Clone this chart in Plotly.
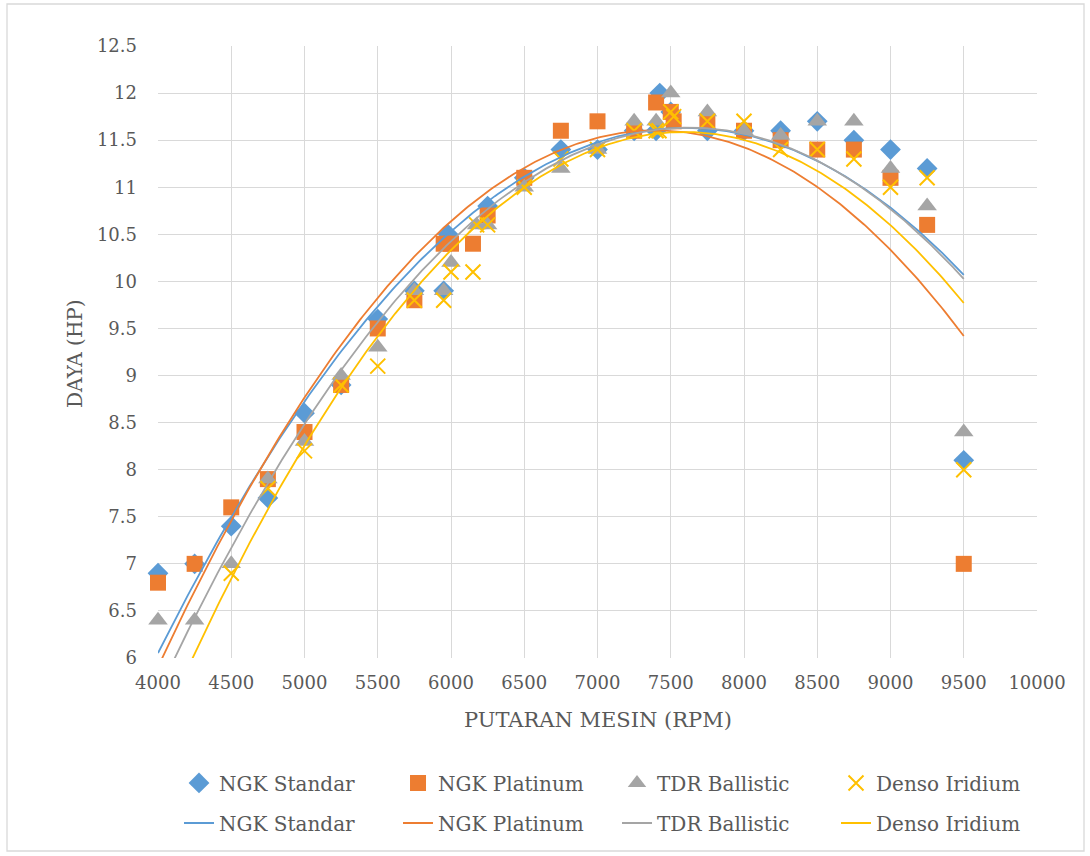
import numpy as np
import plotly.graph_objects as go

# ---- data ----
ngk_std_rpm = [4000, 4250, 4500, 4750, 5000, 5250, 5500, 5750, 5950, 5980, 6250, 6500, 6750, 7000,
               7250, 7400, 7425, 7500, 7750, 8000, 8250, 8500, 8750, 9000, 9250, 9500]
ngk_std_hp = [6.9, 7.0, 7.4, 7.7, 8.6, 8.9, 9.6, 9.9, 9.9, 10.5, 10.8, 11.1, 11.4, 11.4,
              11.6, 11.6, 12.0, 11.8, 11.6, 11.6, 11.6, 11.7, 11.5, 11.4, 11.2, 8.1]

ngk_plat_rpm = [4000, 4250, 4500, 4750, 5000, 5250, 5500, 5750, 5950, 6000, 6150, 6250, 6500, 6750,
                7000, 7250, 7400, 7500, 7520, 7750, 8000, 8250, 8500, 8750, 9000, 9250, 9500]
ngk_plat_hp = [6.8, 7.0, 7.6, 7.9, 8.4, 8.9, 9.5, 9.8, 10.4, 10.4, 10.4, 10.7, 11.1, 11.6,
               11.7, 11.6, 11.9, 11.8, 11.7, 11.7, 11.6, 11.5, 11.4, 11.4, 11.1, 10.6, 7.0]

tdr_rpm = [4000, 4250, 4500, 4750, 5000, 5250, 5500, 5750, 5950, 6000, 6175, 6250, 6500, 6750,
           7000, 7250, 7400, 7500, 7750, 8000, 8250, 8500, 8750, 9000, 9250, 9500]
tdr_hp = [6.4, 6.4, 7.0, 7.9, 8.3, 9.0, 9.3, 9.9, 9.9, 10.2, 10.6, 10.6, 11.0, 11.2,
          11.4, 11.7, 11.7, 12.0, 11.8, 11.6, 11.55, 11.7, 11.7, 11.2, 10.8, 8.4]

# the first two Denso values lie below the axis minimum and are not visible
denso_rpm = [4000, 4250, 4500, 4750, 5000, 5250, 5500, 5750, 5950, 6000, 6150, 6175, 6250, 6500,
             6750, 7000, 7250, 7400, 7420, 7500, 7520, 7750, 8000, 8250, 8500, 8750, 9000, 9250, 9500]
denso_hp = [5.7, 5.9, 6.9, 7.8, 8.2, 8.9, 9.1, 9.8, 9.8, 10.1, 10.1, 10.6, 10.6, 11.0,
            11.3, 11.4, 11.6, 11.6, 11.6, 11.8, 11.75, 11.7, 11.7, 11.4, 11.4, 11.3, 11.0, 11.1, 8.0]

series_names = ["NGK Standar", "NGK Platinum", "TDR Ballistic", "Denso Iridium"]
colors = ["#5B9BD5", "#ED7D31", "#A5A5A5", "#FFC000"]
symbols = ["diamond", "square", "triangle-up", "x-thin"]
x_ticks = [4000, 4500, 5000, 5500, 6000, 6500, 7000, 7500, 8000, 8500, 9000, 9500, 10000]
x_tick_text = [str(v) for v in x_ticks]
y_ticks = [6, 6.5, 7, 7.5, 8, 8.5, 9, 9.5, 10, 10.5, 11, 11.5, 12, 12.5]
y_tick_text = ["6", "6.5", "7", "7.5", "8", "8.5", "9", "9.5", "10", "10.5", "11", "11.5", "12", "12.5"]

all_x = [ngk_std_rpm, ngk_plat_rpm, tdr_rpm, denso_rpm]
all_y = [ngk_std_hp, ngk_plat_hp, tdr_hp, denso_hp]

FONT = "DejaVu Serif"
TXT = "#595959"

fig = go.Figure()

for name, c, s, xs, ys in zip(series_names, colors, symbols, all_x, all_y):
    if s == "x-thin":
        marker = dict(symbol=s, size=15, color=c, line=dict(color=c, width=2))
    elif s == "diamond":
        marker = dict(symbol=s, size=16, color=c)
    elif s == "square":
        marker = dict(symbol=s, size=16, color=c)
    else:
        marker = dict(symbol=s, size=17, color=c)
    fig.add_trace(go.Scatter(x=xs, y=ys, mode="markers", name=name, marker=marker,
                             cliponaxis=(s == "x-thin"), legend="legend"))

# polynomial (order 2) trendlines computed from the data
for name, c, xs, ys in zip(series_names, colors, all_x, all_y):
    coef = np.polyfit(np.array(xs, float), np.array(ys, float), 2)
    xx = np.linspace(min(xs), max(xs), 300)
    yy = np.polyval(coef, xx)
    fig.add_trace(go.Scatter(x=xx, y=yy, mode="lines", name=name,
                             line=dict(color=c, width=1.8), legend="legend2"))

axis_common = dict(showgrid=True, gridcolor="#D9D9D9", gridwidth=1.3, zeroline=False,
                   showline=False, ticks="",
                   tickfont=dict(family=FONT, size=18, color=TXT))

fig.update_layout(
    width=1090, height=856,
    font=dict(family=FONT, color=TXT),
    margin=dict(l=158, r=53, t=46, b=198),
    paper_bgcolor="white", plot_bgcolor="white",
    xaxis=dict(range=[4000, 10000], tickvals=x_ticks, ticktext=x_tick_text,
               ticklabelstandoff=12, **axis_common),
    yaxis=dict(range=[6, 12.5], tickvals=y_ticks, ticktext=y_tick_text,
               ticklabelstandoff=20, **axis_common),
    showlegend=True,
    legend=dict(orientation="h", x=0.0239, xanchor="left", y=-0.2042, yanchor="middle",
                entrywidth=174, font=dict(family=FONT, size=20, color=TXT),
                bgcolor="rgba(0,0,0,0)"),
    legend2=dict(orientation="h", x=0.0239, xanchor="left", y=-0.2696, yanchor="middle",
                 entrywidth=174, font=dict(family=FONT, size=20, color=TXT),
                 bgcolor="rgba(0,0,0,0)"),
    annotations=[
        dict(text="PUTARAN MESIN (RPM)", x=0.5, xref="paper", y=(658 - 720) / 612, yref="paper",
             showarrow=False, xanchor="center", yanchor="middle",
             font=dict(family=FONT, size=21, color=TXT)),
        dict(text="DAYA (HP)", x=(75 - 158) / 879, xref="paper", y=(658 - 354) / 612, yref="paper",
             showarrow=False, xanchor="center", yanchor="middle", textangle=-90,
             font=dict(family=FONT, size=20, color=TXT)),
    ],
    shapes=[dict(type="rect", xref="paper", yref="paper",
                 x0=(7 - 158) / 879, x1=(1084 - 158) / 879,
                 y0=(658 - 851) / 612, y1=(658 - 4) / 612,
                 line=dict(color="#D9D9D9", width=1.3), layer="below")],
)

fig.write_html("out.html")
